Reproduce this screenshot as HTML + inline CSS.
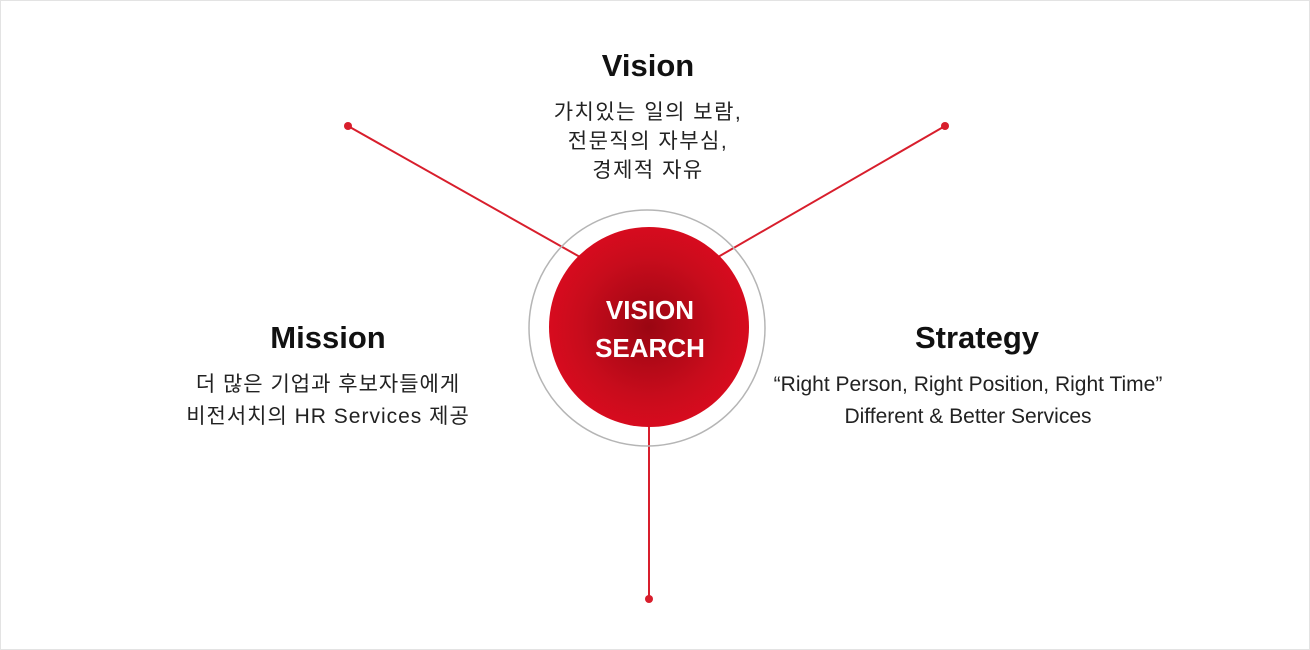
<!DOCTYPE html>
<html><head><meta charset="utf-8"><style>
body{margin:0;width:1310px;height:650px;background:#fff;position:relative;overflow:hidden;font-family:"Liberation Sans","Noto Sans CJK KR",sans-serif;}
.frame{position:absolute;left:0;top:0;width:1308px;height:648px;border:1px solid #e3e3e3;}
.t{position:absolute;text-align:center;color:#111;}
h{display:block;font-weight:bold;font-size:31px;}
.k{font-size:21px;line-height:31px;color:#222;}
</style></head><body>
<div class="frame"></div>
<svg width="1310" height="650" style="position:absolute;left:0;top:0">
<defs><radialGradient id="g" cx="50%" cy="50%" r="50%"><stop offset="0" stop-color="#9a0612"/><stop offset="0.7" stop-color="#c80c1c"/><stop offset="1" stop-color="#d70b1e"/></radialGradient></defs>
<line x1="348" y1="126" x2="580" y2="257" stroke="#d81e2c" stroke-width="2"/>
<line x1="945" y1="126" x2="718" y2="257" stroke="#d81e2c" stroke-width="2"/>
<line x1="649" y1="420" x2="649" y2="599" stroke="#d81e2c" stroke-width="2"/>
<circle cx="348" cy="126" r="4" fill="#d81e2c"/><circle cx="945" cy="126" r="4" fill="#d81e2c"/><circle cx="649" cy="599" r="4" fill="#d81e2c"/>
<circle cx="647" cy="328" r="118" fill="none" stroke="#b5b5b5" stroke-width="1.5"/>
<circle cx="649" cy="327" r="100" fill="url(#g)"/>
<text x="650" y="319" text-anchor="middle" font-family="Liberation Sans,sans-serif" font-weight="bold" font-size="26" fill="#fff">VISION</text>
<text x="650" y="357" text-anchor="middle" font-family="Liberation Sans,sans-serif" font-weight="bold" font-size="26" fill="#fff">SEARCH</text>
</svg>
<div class="t" style="left:498px;top:48px;width:300px"><h>Vision</h><div class="k" style="margin-top:14px;line-height:29px;letter-spacing:1.5px">가치있는 일의 보람,<br>전문직의 자부심,<br>경제적 자유</div></div>
<div class="t" style="left:178px;top:320px;width:300px"><h>Mission</h><div class="k" style="margin-top:13px;line-height:32px;letter-spacing:1px">더 많은 기업과 후보자들에게<br>비전서치의 HR Services 제공</div></div>
<div class="t" style="left:748px;top:320px;width:440px"><h style="padding-left:18px">Strategy</h><div class="k" style="margin-top:13px;line-height:32px">“Right Person, Right Position, Right Time”<br>Different &amp; Better Services</div></div>
</body></html>
